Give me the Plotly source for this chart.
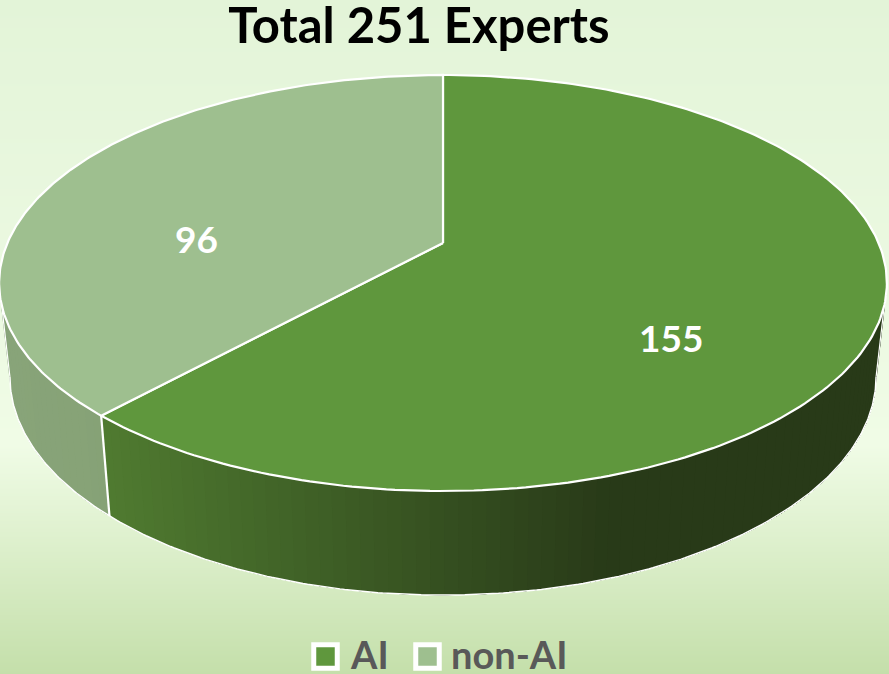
import numpy as np
import plotly.graph_objects as go

# Data
TITLE = "Total 251 Experts"
categories = ["AI", "non-AI"]
values = [155, 96]
slice_colors = ["#5F973D", "#9EBF8F"]
label_positions = [(671, 337), (196, 238)]
legend_marker_x = [325.5, 427.5]
legend_text_x = [348, 449]
LEGEND_Y = 656.5
LEGEND_TEXT_Y = 654

# Perspective projection of the pie disc (pixel space of the 889x674 view)
W, H = 889, 674
CX = 443
K = 0.1923
TOP = dict(w=435.6, a=243.0, b=-153.6)
BOT = dict(w=425.0, a=334.7, b=-146.0)

# Background gradient stops (position, colour)
bg_stops = [[0.0, "#E3F4D8"], [0.66, "#F0FCE6"], [1.0, "#C4DFAA"]]


def project(theta_deg, plane, r=1.0):
    t = np.radians(theta_deg)
    u, v = r * np.sin(t), r * np.cos(t)
    d = 1 + K * v
    return CX + plane["w"] * u / d, (plane["a"] + plane["b"] * v) / d


def mix(c0, c1, f):
    f = min(max(f, 0.0), 1.0)
    a = [int(c0[i:i + 2], 16) for i in (1, 3, 5)]
    b = [int(c1[i:i + 2], 16) for i in (1, 3, 5)]
    return "rgb(%d,%d,%d)" % tuple(round(x + (y - x) * f) for x, y in zip(a, b))


def wall_color(idx, x):
    if idx == 0:
        return mix("#4F7A30", "#283A18", (x - 110) / 500)
    return mix("#88A479", "#86A276", x / 110)


total = sum(values)
edges = np.concatenate([[0], np.cumsum(values)]) / total * 360
SIL_R = float(np.degrees(np.arccos(-K)))  # silhouette angle on the right
SIL_L = 360 - SIL_R

fig = go.Figure()

# Background
rows = np.linspace(0, 1, 169)
fig.add_trace(go.Heatmap(
    x=[0, W], y=rows * H, z=[[r, r] for r in rows], colorscale=bg_stops,
    zmin=0, zmax=1, showscale=False, hoverinfo="skip", zsmooth="best"))


def white_line(xs, ys, width):
    fig.add_trace(go.Scatter(x=xs, y=ys, mode="lines",
                             line=dict(color="#FFFFFF", width=width),
                             hoverinfo="skip", showlegend=False))


# Walls: each gradient band is painted over the remainder of its slice,
# working from the far end so that no seams show between bands
for i, cat in enumerate(categories):
    lo = max(edges[i], SIL_R)
    hi = min(edges[i + 1], SIL_L)
    steps = np.linspace(lo, hi, max(int((hi - lo) / 1.5), 2) + 1)
    for a0, a1 in zip(steps[:-1][::-1], steps[1:][::-1]):
        arc = np.linspace(lo, a1, max(int((a1 - lo) / 1.5), 1) + 2)
        xt, yt = project(arc, TOP)
        xb, yb = project(arc, BOT)
        mx, _ = project((a0 + a1) / 2, TOP)
        c = wall_color(i, float(mx))
        fig.add_trace(go.Scatter(
            x=np.r_[xt, xb[::-1], xt[0]], y=np.r_[yt, yb[::-1], yt[0]],
            mode="lines", fill="toself", fillcolor=c,
            line=dict(color=c, width=0), hoverinfo="skip", showlegend=False))

# Wall outline: lower rim, both silhouette edges and the seam between slices
xb, yb = project(np.linspace(SIL_R, SIL_L, 300), BOT)
white_line(xb, yb, 1.5)
for ang, wid in ((SIL_R, 1.2), (SIL_L, 1.2), (edges[1], 2.2)):
    xt, yt = project(ang, TOP)
    xb, yb = project(ang, BOT)
    white_line([xt, xb], [yt, yb], wid)

# Top surface
ax, ay = project(0.0, TOP, r=0.0)
for i, cat in enumerate(categories):
    arc = np.linspace(edges[i], edges[i + 1], 240)
    xr, yr = project(arc, TOP)
    fig.add_trace(go.Scatter(
        x=np.r_[ax, xr, ax], y=np.r_[ay, yr, ay], mode="lines", fill="toself",
        fillcolor=slice_colors[i], line=dict(color="#FFFFFF", width=2.2),
        name=cat, text=f"{cat}: {values[i]}", hoverinfo="text", showlegend=False))

# Legend (swatch + label), sized as in the reference
for i, cat in enumerate(categories):
    fig.add_trace(go.Scatter(
        x=[legend_marker_x[i]], y=[LEGEND_Y], mode="markers", name=cat,
        marker=dict(symbol="square", size=23.5, color=slice_colors[i],
                    line=dict(color="#FFFFFF", width=5)),
        hoverinfo="name", showlegend=False))
    fig.add_annotation(x=legend_text_x[i], y=LEGEND_TEXT_Y, text=cat, showarrow=False,
                       xanchor="left", xref="x", yref="y",
                       font=dict(family="Lato", size=38, color="#595959", weight="bold"))

# Data labels
for v, (lx, ly) in zip(values, label_positions):
    fig.add_annotation(x=lx, y=ly, text=str(v), showarrow=False, xref="x", yref="y",
                       font=dict(family="Lato", size=37, color="#FFFFFF", weight="bold"))

fig.update_layout(
    width=W, height=H, autosize=False,
    margin=dict(l=0, r=0, t=0, b=0),
    paper_bgcolor="#E3F4D8", plot_bgcolor="rgba(0,0,0,0)",
    title=dict(text=TITLE, x=419 / W, xanchor="center", y=1 - 26 / H, yanchor="middle",
               font=dict(family="Lato", size=49, color="#000000", weight="bold")),
    xaxis=dict(range=[0, W], visible=False, fixedrange=True),
    yaxis=dict(range=[H, 0], visible=False, fixedrange=True),
    showlegend=False,
)

fig.write_html("out.html", config=dict(displayModeBar=False),
               post_script="document.body.style.margin='0';document.documentElement.style.overflow='hidden';")
